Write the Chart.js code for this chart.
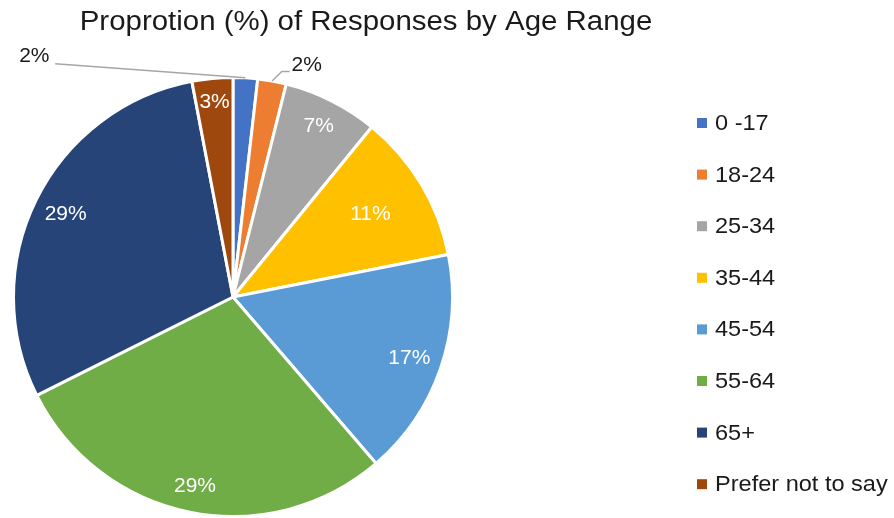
<!DOCTYPE html>
<html>
<head>
<meta charset="utf-8">
<script src="https://cdn.jsdelivr.net/npm/chart.js@4/dist/chart.umd.min.js"></script>
<style>
html,body{margin:0;padding:0;background:#fff;}
#wrap{position:relative;width:894px;height:518px;}
</style>
</head>
<body>
<div id="wrap"><canvas id="c" width="894" height="518"></canvas></div>
<script>
const titleText = "Proprotion (%) of Responses by Age Range";
const categories = ["0 -17", "18-24", "25-34", "35-44", "45-54", "55-64", "65+", "Prefer not to say"];
const values = [1.8, 2.1, 7.0, 11.0, 16.8, 28.9, 29.4, 3.0];
const colors = ["#4472C4", "#ED7D31", "#A5A5A5", "#FFC000", "#5B9BD5", "#70AD47", "#264478", "#9E480E"];

const FONT = '"Liberation Sans", Arial, sans-serif';
// label placement styles (fraction of radius along mid-angle)
const insideRadius = [null, null, 0.87, 0.73, 0.85, 0.88, 0.85, 0.89];
// outside labels: text offset from centre in radius units, and elbow point
const outside = {
  0: {tx: -0.905, ty: -1.095, align: 'center', elbow: null, lineEnd: [-0.81, -1.063]},
  1: {tx: 0.267, ty: -1.055, align: 'left', elbow: [0.222, -1.027], lineEnd: [0.258, -1.027]}
};

const total = values.reduce((a, b) => a + b, 0);

function stretchText(ctx, txt, x, y, sx, align) {
  ctx.save();
  ctx.translate(x, y);
  ctx.scale(sx, 1);
  ctx.textAlign = align;
  ctx.fillText(txt, 0, 0);
  ctx.restore();
}

const labelPlugin = {
  id: 'labels',
  afterDraw(chart) {
    const ctx = chart.ctx;
    const meta = chart.getDatasetMeta(0);
    ctx.save();
    ctx.textBaseline = 'middle';
    // title
    ctx.fillStyle = '#1a1a1a';
    ctx.font = '27px ' + FONT;
    stretchText(ctx, titleText, 366, 23, 1.09, 'center');

    meta.data.forEach((arc, i) => {
      const p = arc.getProps(['x', 'y', 'startAngle', 'endAngle', 'outerRadius'], true);
      const mid = (p.startAngle + p.endAngle) / 2;
      const R = p.outerRadius;
      const txt = Math.round(values[i] / total * 100) + '%';
      if (insideRadius[i] != null) {
        const r = R * insideRadius[i];
        ctx.fillStyle = '#ffffff';
        ctx.font = '20px ' + FONT;
        stretchText(ctx, txt, p.x + Math.cos(mid) * r, p.y + Math.sin(mid) * r, 1.05, 'center');
      } else if (outside[i]) {
        const o = outside[i];
        const ex = p.x + Math.cos(mid) * R, ey = p.y + Math.sin(mid) * R;
        ctx.strokeStyle = '#A6A6A6';
        ctx.lineWidth = 1.5;
        ctx.beginPath();
        ctx.moveTo(ex, ey);
        if (o.elbow) ctx.lineTo(p.x + o.elbow[0] * R, p.y + o.elbow[1] * R);
        ctx.lineTo(p.x + o.lineEnd[0] * R, p.y + o.lineEnd[1] * R);
        ctx.stroke();
        ctx.fillStyle = '#1a1a1a';
        ctx.font = '20px ' + FONT;
        stretchText(ctx, txt, p.x + o.tx * R, p.y + o.ty * R, 1.05, o.align);
      }
    });

    // legend
    ctx.font = '22px ' + FONT;
    categories.forEach((c, i) => {
      const y = 123 + i * 51.6;
      ctx.fillStyle = colors[i];
      ctx.fillRect(697, y - 5, 10, 10);
      ctx.fillStyle = '#1a1a1a';
      stretchText(ctx, c, 715, y + 1, 1.07, 'left');
    });
    ctx.restore();
  }
};

new Chart(document.getElementById('c'), {
  type: 'pie',
  data: {
    labels: categories,
    datasets: [{
      data: values,
      backgroundColor: colors,
      borderColor: '#ffffff',
      borderWidth: 3
    }]
  },
  options: {
    responsive: false,
    animation: false,
    layout: {padding: {left: 12, right: 440, top: 76, bottom: 0}},
    plugins: {
      legend: {display: false},
      title: {display: false},
      tooltip: {enabled: false}
    }
  },
  plugins: [labelPlugin]
});
</script>
</body>
</html>
